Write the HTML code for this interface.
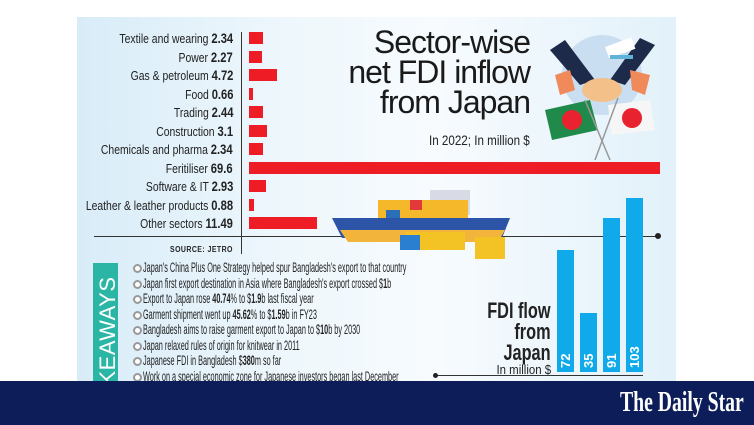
<!DOCTYPE html>
<html><head><meta charset="utf-8"><style>
*{margin:0;padding:0;box-sizing:border-box}
body{width:754px;height:425px;background:#fff;position:relative;overflow:hidden;font-family:"Liberation Sans",sans-serif;color:#222}
.panel{position:absolute;left:77px;top:17px;width:599px;height:364px;background:linear-gradient(90deg,#d8ecf8 0%,#eef7fc 35%,#f7fbfe 60%,#e2f1fa 100%)}
.a{position:absolute}
.lab{position:absolute;right:521px;font-size:13px;white-space:nowrap;line-height:14px;transform:scaleX(.8);transform-origin:right center}
.lab b{font-size:14px}
.bar{position:absolute;left:249px;height:12px;background:#ee1c25}
.bl{position:absolute;left:133px;width:9px;height:9px;border-radius:50%;border:2.5px solid #999;background:#fff}
.tx{position:absolute;left:143px;font-size:13.5px;white-space:nowrap;line-height:14px;transform:scaleX(.54);transform-origin:left center}
.bb{position:absolute;background:#10aaea;width:17px}
.bv{position:absolute;color:#fff;font-weight:bold;font-size:13px;transform:rotate(-90deg);transform-origin:left top;white-space:nowrap}
</style></head><body>
<div class="panel"></div>
<div class="a" style="left:241px;top:32px;width:1px;height:222px;background:#333"></div>
<div class="a" style="left:94px;top:236px;width:564px;height:1px;background:#333"></div>
<div class="a" style="left:655px;top:233px;width:6px;height:6px;border-radius:50%;background:#222"></div>

<div class="lab" style="top:31px">Textile and wearing <b>2.34</b></div><div class="bar" style="top:32px;width:14px"></div>
<div class="lab" style="top:50px">Power <b>2.27</b></div><div class="bar" style="top:51px;width:13px"></div>
<div class="lab" style="top:68px">Gas &amp; petroleum <b>4.72</b></div><div class="bar" style="top:69px;width:28px"></div>
<div class="lab" style="top:87px">Food <b>0.66</b></div><div class="bar" style="top:88px;width:4px"></div>
<div class="lab" style="top:105px">Trading <b>2.44</b></div><div class="bar" style="top:106px;width:14px"></div>
<div class="lab" style="top:124px">Construction <b>3.1</b></div><div class="bar" style="top:125px;width:18px"></div>
<div class="lab" style="top:142px">Chemicals and pharma <b>2.34</b></div><div class="bar" style="top:143px;width:14px"></div>
<div class="lab" style="top:161px">Feritiliser <b>69.6</b></div><div class="bar" style="top:162px;width:411px"></div>
<div class="lab" style="top:179px">Software &amp; IT <b>2.93</b></div><div class="bar" style="top:180px;width:17px"></div>
<div class="lab" style="top:198px">Leather &amp; leather products <b>0.88</b></div><div class="bar" style="top:199px;width:5px"></div>
<div class="lab" style="top:216px">Other sectors <b>11.49</b></div><div class="bar" style="top:217px;width:68px"></div>
<div class="a" style="left:170px;top:245px;font-size:8px;font-weight:bold;letter-spacing:0.5px;transform:scaleX(.87);transform-origin:left center">SOURCE: JETRO</div>

<div class="a" style="right:224px;top:27px;font-size:32px;line-height:30px;text-align:right;color:#1a1a1a;letter-spacing:-1px">Sector-wise<br>net FDI inflow<br>from Japan</div>
<div class="a" style="left:429px;top:132px;font-size:14px;transform:scaleX(.83);transform-origin:left center">In 2022; In million $</div>

<svg class="a" style="left:540px;top:30px" width="125" height="135">
<circle cx="62" cy="45" r="40" fill="#c9def0"/>
<path d="M10 20 L40 55 L55 50 L25 10Z" fill="#1d2a4a"/>
<path d="M115 15 L85 55 L70 50 L100 8Z" fill="#1d2a4a"/>
<ellipse cx="62" cy="60" rx="20" ry="12" fill="#f3c08a"/>
<path d="M15 45 L30 40 L35 60 L20 65Z M90 40 L110 45 L105 65 L92 60Z" fill="#f08a5a"/>
<rect x="65" y="17" width="28" height="12" fill="#fff" transform="rotate(-20 65 17)"/>
<rect x="70" y="25" width="23" height="4" fill="#5fb3d8"/>
<path d="M5 80 L50 70 L58 100 L12 110Z" fill="#1f8a4a"/>
<circle cx="32" cy="90" r="10" fill="#e8232f"/>
<path d="M68 75 L110 70 L115 100 L72 105Z" fill="#f6f6f6"/>
<circle cx="92" cy="88" r="10" fill="#e8232f"/>
<line x1="45" y1="70" x2="70" y2="130" stroke="#999" stroke-width="1.5"/>
<line x1="78" y1="68" x2="55" y2="130" stroke="#999" stroke-width="1.5"/>
</svg>
<svg class="a" style="left:330px;top:180px" width="190" height="80">
<rect x="100" y="10" width="40" height="25" fill="#d8dbe6"/>
<rect x="48" y="20" width="90" height="22" fill="#f5b82a"/>
<rect x="80" y="20" width="12" height="10" fill="#e23a3a"/><rect x="56" y="30" width="14" height="10" fill="#2a6fb8"/>
<path d="M2 38 L180 38 L172 58 L12 58Z" fill="#2c55a8"/>
<path d="M10 50 L175 50 L168 62 L18 62Z" fill="#f2b43a"/>
<rect x="75" y="52" width="60" height="18" fill="#f3c225"/>
<rect x="70" y="55" width="20" height="15" fill="#2a7fd0"/>
<rect x="145" y="57" width="30" height="22" fill="#f3c225"/>
</svg>

<div class="a" style="left:93px;top:263px;width:25px;height:118px;background:#2bb5a5;overflow:hidden">
<div style="position:absolute;left:2px;top:150px;transform:rotate(-90deg);transform-origin:left top;color:#fff;font-size:22px;letter-spacing:0.5px;white-space:nowrap">TAKEAWAYS</div></div>
<div class="bl" style="top:264px"></div><div class="tx" style="top:261px">Japan's China Plus One Strategy helped spur Bangladesh's export to that country</div>
<div class="bl" style="top:280px"></div><div class="tx" style="top:277px">Japan first export destination in Asia where Bangladesh's export crossed $<b>1</b>b</div>
<div class="bl" style="top:295px"></div><div class="tx" style="top:292px">Export to Japan rose <b>40.74</b>% to $<b>1.9</b>b last fiscal year</div>
<div class="bl" style="top:311px"></div><div class="tx" style="top:308px">Garment shipment went up <b>45.62</b>% to $<b>1.59</b>b in FY23</div>
<div class="bl" style="top:326px"></div><div class="tx" style="top:323px">Bangladesh aims to raise garment export to Japan to $<b>10</b>b by 2030</div>
<div class="bl" style="top:342px"></div><div class="tx" style="top:339px">Japan relaxed rules of origin for knitwear in 2011</div>
<div class="bl" style="top:357px"></div><div class="tx" style="top:354px">Japanese FDI in Bangladesh $<b>380</b>m so far</div>
<div class="bl" style="top:373px"></div><div class="tx" style="top:370px">Work on a special economic zone for Japanese investors began last December</div>

<div class="a" style="right:203px;top:300px;font-size:22px;line-height:21px;font-weight:bold;text-align:right;transform:scaleX(.74);transform-origin:right top">FDI flow<br>from<br>Japan</div>
<div class="a" style="right:203px;top:362px;font-size:13px;transform:scaleX(.88);transform-origin:right top">In million $</div>
<div class="bb" style="left:557px;top:250px;height:122px"></div>
<div class="bb" style="left:580px;top:313px;height:59px"></div>
<div class="bb" style="left:603px;top:218px;height:154px"></div>
<div class="bb" style="left:626px;top:198px;height:174px"></div>
<div class="bv" style="left:558px;top:368px">72</div>
<div class="bv" style="left:581px;top:368px">35</div>
<div class="bv" style="left:604px;top:368px">91</div>
<div class="bv" style="left:627px;top:368px">103</div>
<div class="a" style="left:436px;top:375px;width:207px;height:1px;background:#333"></div>
<div class="a" style="left:433px;top:373px;width:5px;height:5px;border-radius:50%;background:#222"></div>

<div class="a" style="left:0;top:381px;width:754px;height:44px;background:#0c1d5a"></div>
<div class="a" style="left:620px;top:386px;color:#fff;font-family:'Liberation Serif',serif;font-weight:bold;font-size:29px;white-space:nowrap;transform:scaleX(.68);transform-origin:left top">The Daily Star</div>
</body></html>
